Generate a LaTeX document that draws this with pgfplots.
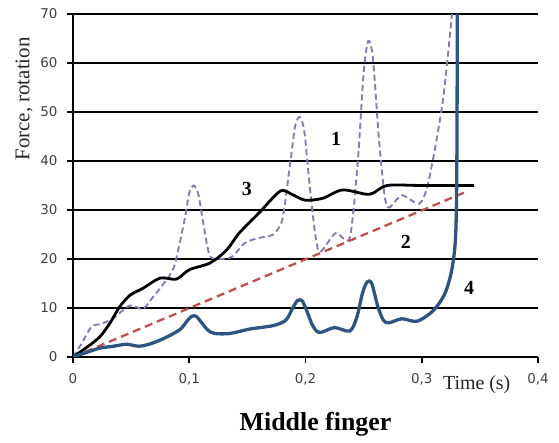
\documentclass[border=0pt]{standalone}
\usepackage{fontspec}
\setmainfont{Liberation Serif}
\newfontfamily\verd{DejaVu Sans}
\usepackage{pgfplots}
\pgfplotsset{compat=1.18}

\definecolor{fblue}{RGB}{46,84,130}
\definecolor{fpurple}{RGB}{135,124,172}
\definecolor{fred}{RGB}{192,80,77}

\begin{document}
\begin{tikzpicture}
\useasboundingbox (-73bp,-86bp) rectangle (486bp,357bp);
\begin{axis}[
    scale only axis,
    width=465bp, height=343bp,
    xmin=0, xmax=0.4, ymin=0, ymax=70,
    axis x line*=bottom, axis y line*=left,
    axis line style={line width=2.8bp, black},
    xtick={0,0.1,0.2,0.3,0.4},
    ytick={0,10,...,70},
    ymajorgrids,
    grid style={line width=1.3bp, black},
    tick align=outside,
    major tick length=6bp,
    tick style={line width=1.8bp, black},
    /pgf/number format/assume math mode=true,
    /pgf/number format/use comma,
    /pgf/number format/fixed,
    tick label style={font=\verd\fontsize{13.5}{15}\selectfont, text=black!75},
    xticklabel style={yshift=-7bp},
    yticklabel style={xshift=-6bp},
    scaled x ticks=false,
    clip=true,
]
% 1 - purple dashed
\addplot[color=fpurple, line width=1.9bp, dash pattern=on 6bp off 3.5bp, smooth, tension=0.45] coordinates {
(0,0) (0.008,3) (0.016,6.2) (0.025,6.8) (0.035,8) (0.049,10.5) (0.06,9.8)
(0.068,12) (0.078,15) (0.087,18.5) (0.096,28) (0.100,33.5) (0.104,35)
(0.108,33) (0.113,26) (0.118,20.5) (0.128,20) (0.137,20.5) (0.148,23.3)
(0.16,24.3) (0.172,25) (0.18,28) (0.186,38) (0.191,47) (0.195,49)
(0.199,46) (0.204,34) (0.209,24) (0.213,21.5) (0.226,25.3) (0.238,24.3)
(0.245,40) (0.25,58) (0.254,64.5) (0.258,61) (0.263,45) (0.268,33)
(0.272,30.5) (0.283,33) (0.298,31.3) (0.306,36) (0.318,52) (0.326,70)
};
% 2 - red dashed
\addplot[color=fred, line width=2.3bp, dash pattern=on 8bp off 5bp] coordinates {
(0,0) (0.338,33.7)
};
% 3 - black
\addplot[color=black, line width=2.8bp, smooth, tension=0.5] coordinates {
(0,0) (0.012,2) (0.023,4.1) (0.032,7) (0.040,10.2) (0.049,12.6) (0.06,14)
(0.075,16.1) (0.089,15.9) (0.1,17.8) (0.118,19.2) (0.132,21.8) (0.143,25.3)
(0.16,29.4) (0.172,32.5) (0.18,34) (0.19,33) (0.2,32) (0.215,32.4)
(0.232,34.1) (0.255,33.2) (0.27,35) (0.3,35) (0.345,35)
};
% 4 - blue
\addplot[color=fblue, line width=3.3bp, smooth, tension=0.5] coordinates {
(0,0) (0.01,0.8) (0.023,1.8) (0.035,2.2) (0.046,2.6) (0.057,2.2) (0.068,2.8)
(0.08,4.0) (0.092,5.6) (0.098,7.3) (0.102,8.3) (0.106,8.3) (0.110,7.2)
(0.116,5.5) (0.122,4.8) (0.135,4.8) (0.152,5.7) (0.172,6.4) (0.183,7.5)
(0.189,10) (0.193,11.5) (0.197,11.5) (0.201,9.5) (0.206,6.5) (0.212,5.0)
(0.225,6.0) (0.238,5.3) (0.244,8) (0.249,13) (0.253,15.3) (0.257,15.0)
(0.262,10.5) (0.267,7.5) (0.272,7) (0.283,7.8) (0.296,7.3) (0.31,9.5)
(0.32,13) (0.326,18) (0.3292,25) (0.3302,40) (0.3306,70)
};
\node[font=\bfseries\fontsize{20}{22}\selectfont] at (axis cs:0.2264,44.5) {1};
\node[font=\bfseries\fontsize{20}{22}\selectfont] at (axis cs:0.2864,23.5) {2};
\node[font=\bfseries\fontsize{20}{22}\selectfont] at (axis cs:0.1496,34.3) {3};
\node[font=\bfseries\fontsize{20}{22}\selectfont] at (axis cs:0.3408,14.1) {4};
\end{axis}
\node[rotate=90, font=\fontsize{21}{24}\selectfont, text=black!85] at (-49bp,258bp) {Force, rotation};
\node[anchor=base, font=\fontsize{20}{22}\selectfont, text=black!85] at (403.7bp,-32bp) {Time (s)};
\node[anchor=base, font=\bfseries\fontsize{26}{30}\selectfont] at (242.5bp,-73bp) {Middle finger};
\end{tikzpicture}
\end{document}
